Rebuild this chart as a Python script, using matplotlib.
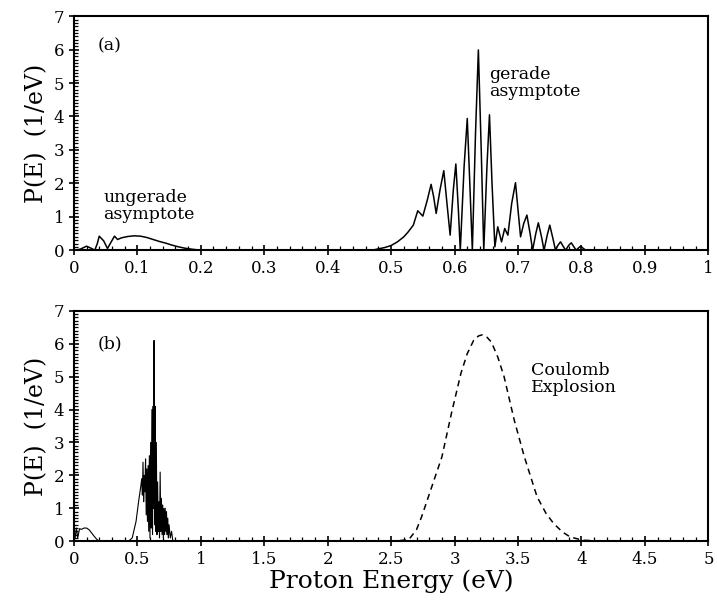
import matplotlib
matplotlib.use("Agg")
import matplotlib.pyplot as plt
from matplotlib.ticker import MultipleLocator

# panel (a): proton energy spectrum, 0-1 eV
top_e = [0.0, 0.01, 0.02, 0.027, 0.033, 0.037, 0.04, 0.047, 0.053, 0.058, 0.064, 0.069,
         0.075, 0.085, 0.095, 0.105, 0.115, 0.125, 0.135, 0.145, 0.155, 0.165, 0.175,
         0.186, 0.2, 0.3, 0.4, 0.47, 0.48, 0.49, 0.5, 0.51, 0.52, 0.527, 0.535, 0.542,
         0.55, 0.557, 0.563, 0.567, 0.571, 0.577, 0.583, 0.588, 0.593, 0.598, 0.602,
         0.606, 0.609, 0.615, 0.620, 0.624, 0.628, 0.633, 0.6375, 0.642, 0.646, 0.651,
         0.655, 0.659, 0.6635, 0.668, 0.674, 0.679, 0.684, 0.690, 0.696, 0.700, 0.704,
         0.709, 0.714, 0.719, 0.723, 0.728, 0.732, 0.737, 0.741, 0.746, 0.750, 0.755,
         0.759, 0.763, 0.767, 0.771, 0.775, 0.780, 0.784, 0.788, 0.792, 0.796, 0.799,
         0.803, 0.807, 0.9, 1.0]
top_p = [0.0, 0.03, 0.12, 0.06, 0.0, 0.2, 0.42, 0.28, 0.05, 0.22, 0.42, 0.32,
         0.37, 0.41, 0.43, 0.42, 0.38, 0.32, 0.26, 0.21, 0.15, 0.1, 0.06,
         0.03, 0.0, 0.0, 0.0, 0.0, 0.04, 0.08, 0.14, 0.25, 0.4, 0.55, 0.75, 1.18,
         1.02, 1.5, 1.97, 1.6, 1.1, 1.8, 2.38, 1.4, 0.45, 1.8, 2.58,
         1.2, 0.0, 2.5, 3.94, 2.0, 0.0, 3.5, 5.99, 3.0, 0.0, 2.5,
         4.05, 2.0, 0.1, 0.7, 0.25, 0.65, 0.45, 1.4, 2.02, 1.2, 0.4,
         0.8, 1.05, 0.5, 0.0, 0.5, 0.82, 0.4, 0.0, 0.45, 0.75, 0.35,
         0.0, 0.15, 0.25, 0.12, 0.0, 0.15, 0.22, 0.1, 0.0, 0.08, 0.12,
         0.05, 0.0, 0.0, 0.0]

# panel (b): full spectrum, 0-5 eV
bot_e = [0.0, 0.01, 0.02, 0.03, 0.045, 0.06, 0.08, 0.1, 0.12, 0.14, 0.16, 0.18, 0.2,
         0.43, 0.46, 0.49, 0.51, 0.525, 0.535, 0.54, 0.545, 0.55, 0.555, 0.56, 0.565,
         0.57, 0.575, 0.58, 0.585, 0.59, 0.595, 0.60, 0.605, 0.61, 0.615, 0.62, 0.625,
         0.628, 0.632, 0.636, 0.64, 0.645, 0.65, 0.655, 0.66, 0.665, 0.67, 0.675, 0.68,
         0.685, 0.69, 0.695, 0.70, 0.705, 0.71, 0.715, 0.72, 0.725, 0.73, 0.735, 0.74,
         0.745, 0.75, 0.76, 0.77, 0.78, 5.0]
bot_p = [0.0, 0.1, 0.4, 0.1, 0.38, 0.36, 0.4, 0.4, 0.35, 0.25, 0.15, 0.06, 0.0,
         0.0, 0.1, 0.6, 1.2, 1.6, 1.9, 1.4, 2.4, 1.2, 2.0, 1.5, 2.5,
         0.8, 2.2, 0.6, 2.3, 0.3, 2.6, 0.1, 3.0, 0.4, 4.0, 0.2, 4.1,
         1.0, 6.1, 0.5, 4.1, 0.3, 3.0, 0.2, 1.8, 0.3, 1.2, 0.1, 2.1,
         0.3, 1.3, 0.2, 1.1, 0.1, 1.0, 0.2, 1.0, 0.3, 0.9, 0.2, 0.7,
         0.1, 0.5, 0.1, 0.3, 0.0, 0.0]

# Coulomb explosion (dashed)
ce_e = [2.4, 2.55, 2.64, 2.70, 2.74, 2.82, 2.90, 2.975, 3.05, 3.10, 3.15, 3.19, 3.22,
        3.25, 3.29, 3.34, 3.39, 3.47, 3.55, 3.65, 3.72, 3.78, 3.85, 3.91, 4.01, 4.2]
ce_p = [0.0, 0.01, 0.05, 0.35, 0.74, 1.65, 2.56, 3.88, 5.1, 5.7, 6.1, 6.24, 6.27,
        6.22, 6.05, 5.6, 5.0, 3.68, 2.56, 1.35, 0.85, 0.54, 0.28, 0.13, 0.03, 0.0]

plt.rcParams['font.family'] = ['DejaVu Serif']

fig = plt.figure(figsize=(7.17, 6.0), dpi=100)
ax1 = fig.add_axes([0.103, 0.583, 0.885, 0.39])
ax2 = fig.add_axes([0.103, 0.098, 0.885, 0.384])

ax1.plot(top_e, top_p, color="black", lw=1.1)
ax2.plot(bot_e, bot_p, color="black", lw=0.8)
ax2.plot(ce_e, ce_p, color="black", lw=1.1, linestyle=(0, (4, 3)))

for ax in (ax1, ax2):
    ax.set_ylim(0, 7)
    ax.yaxis.set_major_locator(MultipleLocator(1))
    ax.yaxis.set_minor_locator(MultipleLocator(0.1))
    ax.tick_params(which="major", direction="inout", length=7, width=1.2, labelsize=12)
    ax.tick_params(which="minor", direction="in", length=3, width=0.9)
    for s in ax.spines.values():
        s.set_linewidth(1.5)
    ax.set_ylabel("P(E)  (1/eV)", fontsize=17, labelpad=4)

ax1.set_xlim(0, 1)
ax1.xaxis.set_minor_locator(MultipleLocator(0.02))
ax1.set_xticks([0, 0.1, 0.2, 0.3, 0.4, 0.5, 0.6, 0.7, 0.8, 0.9, 1.0])
ax1.set_xticklabels(["0", "0.1", "0.2", "0.3", "0.4", "0.5", "0.6", "0.7", "0.8", "0.9", "1"])

ax2.set_xlim(0, 5)
ax2.xaxis.set_minor_locator(MultipleLocator(0.1))
ax2.set_xticks([0, 0.5, 1, 1.5, 2, 2.5, 3, 3.5, 4, 4.5, 5])
ax2.set_xticklabels(["0", "0.5", "1", "1.5", "2", "2.5", "3", "3.5", "4", "4.5", "5"])
ax2.set_xlabel("Proton Energy (eV)", fontsize=18, labelpad=1)

ax1.text(0.038, 6.1, "(a)", fontsize=12.5, va="center")
ax1.text(0.046, 0.8, "ungerade\nasymptote", fontsize=12.5, va="bottom", linespacing=1.0)
ax1.text(0.655, 4.5, "gerade\nasymptote", fontsize=12.5, va="bottom", linespacing=1.0)
ax2.text(0.19, 6.0, "(b)", fontsize=12.5, va="center")
ax2.text(3.6, 4.4, "Coulomb\nExplosion", fontsize=12.5, va="bottom", linespacing=1.0)

fig.savefig("out.png", dpi=100)
